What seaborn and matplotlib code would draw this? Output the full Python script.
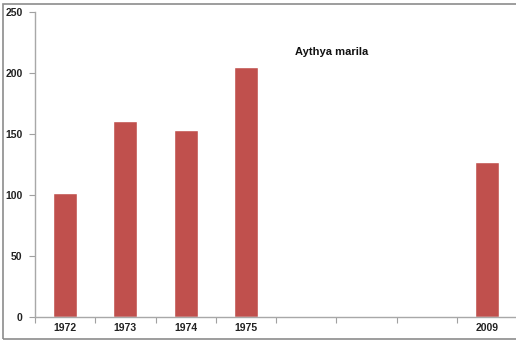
import matplotlib
matplotlib.use("Agg")
import matplotlib.pyplot as plt
import seaborn as sns
import pandas as pd
import numpy as np
from matplotlib.patches import Rectangle

categories = ["1972", "1973", "1974", "1975", "c5", "c6", "c7", "2009"]
tick_labels = ["1972", "1973", "1974", "1975", "", "", "", "2009"]
values = [102, 161, 153, 205, np.nan, np.nan, np.nan, 127]
title_text = "Aythya marila"

sns.set_theme(style="white")
plt.rcParams['font.family'] = ['Liberation Sans', 'DejaVu Sans']

df = pd.DataFrame({"year": categories, "count": values})

fig = plt.figure(figsize=(5.16, 3.44), dpi=100)
ax = fig.add_axes([35/516, 1 - 317/344, 482/516, (317 - 12)/344])

sns.barplot(data=df, x="year", y="count", order=categories, color="#C0504D",
            saturation=1, width=0.4, ax=ax, errorbar=None)

ax.set_xlim(-0.5, 7.5)
ax.set_ylim(0, 250)
ax.set_yticks([0, 50, 100, 150, 200, 250])
ax.set_yticklabels(["0", "50", "100", "150", "200", "250"], fontsize=7.5, fontweight="bold")
ax.set_xticks(range(len(categories)))
ax.set_xticklabels(tick_labels, fontsize=7.5, fontweight="bold")
ax.set_xlabel("")
ax.set_ylabel("")

# minor ticks at category boundaries
ax.set_xticks(np.arange(-0.5, 7.5, 1.0), minor=True)
ax.tick_params(axis="x", which="major", length=0, pad=4.5, colors="#222222")
ax.tick_params(axis="x", which="minor", length=4, width=0.8, color="#a0a0a0", direction="out", bottom=True)
ax.tick_params(axis="y", length=4, width=0.8, color="#a0a0a0", labelcolor="#222222",
               direction="out", left=True, pad=5)

for s in ["top", "right"]:
    ax.spines[s].set_visible(False)
for s in ["left", "bottom"]:
    ax.spines[s].set_color("#a8a8a8")
    ax.spines[s].set_linewidth(1.0)

ax.text(3.81, 217, title_text, fontsize=8, fontweight="bold", ha="left", va="center",
        color="#111111")

fig.patches.append(Rectangle((3/516, 1 - 339/344), 1.2, (339 - 4)/344,
                             transform=fig.transFigure, fill=False,
                             edgecolor="#8c8c8c", linewidth=1.2))

fig.savefig("out.png", dpi=100)
